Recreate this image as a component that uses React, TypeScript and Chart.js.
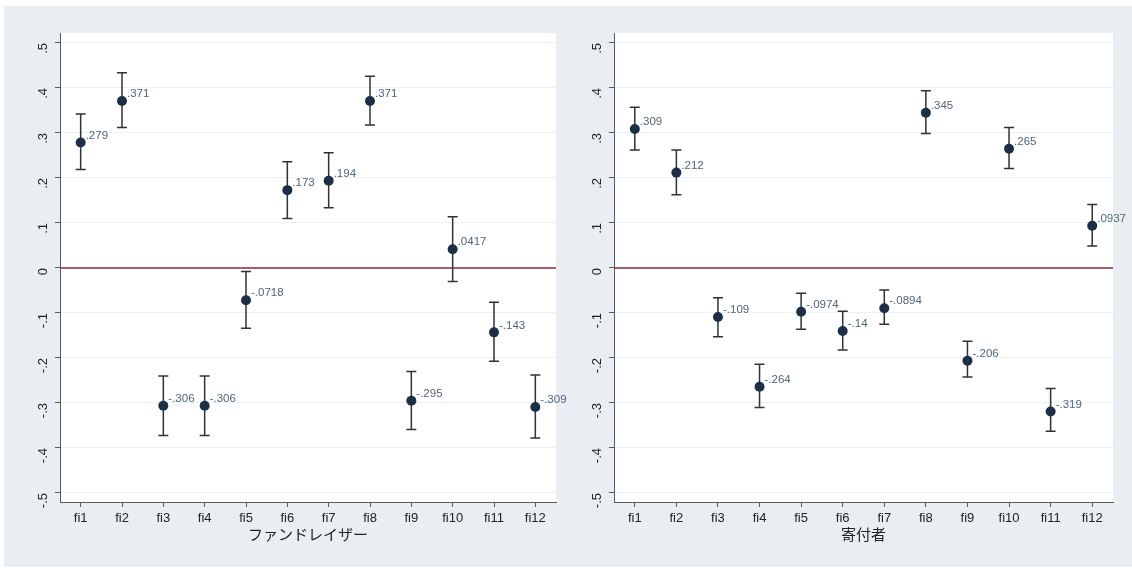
import React, { useEffect, useRef } from "react";
import { Chart, registerables } from "chart.js";

Chart.register(...registerables);

const categories = ["fi1", "fi2", "fi3", "fi4", "fi5", "fi6", "fi7", "fi8", "fi9", "fi10", "fi11", "fi12"];
const yTickValues = [-0.5, -0.4, -0.3, -0.2, -0.1, 0, 0.1, 0.2, 0.3, 0.4, 0.5];

// Left panel: ファンドレイザー
const fundraiserTitle = "ファンドレイザー";
const fundraiserCoef = [0.279, 0.371, -0.306, -0.306, -0.0718, 0.173, 0.194, 0.371, -0.295, 0.0417, -0.143, -0.309];
const fundraiserLower = [0.219, 0.312, -0.372, -0.372, -0.134, 0.110, 0.134, 0.318, -0.359, -0.030, -0.207, -0.378];
const fundraiserUpper = [0.342, 0.434, -0.240, -0.240, -0.008, 0.236, 0.256, 0.426, -0.230, 0.114, -0.076, -0.238];

// Right panel: 寄付者
const donorTitle = "寄付者";
const donorCoef = [0.309, 0.212, -0.109, -0.264, -0.0974, -0.14, -0.0894, 0.345, -0.206, 0.265, -0.319, 0.0937];
const donorLower = [0.262, 0.163, -0.153, -0.310, -0.136, -0.182, -0.125, 0.299, -0.242, 0.221, -0.363, 0.049];
const donorUpper = [0.357, 0.262, -0.066, -0.214, -0.056, -0.096, -0.049, 0.394, -0.163, 0.312, -0.268, 0.141];

const FONT = "'Liberation Sans', Arial, sans-serif";

function stataFmt(v: number): string {
  return String(v).replace(/^(-?)0\./, "$1.");
}

function makeChart(
  canvas: HTMLCanvasElement,
  title: string,
  coef: number[],
  lower: number[],
  upper: number[],
  pad: { left: number; right: number },
  yWidth: number
) {
  const errPlugin = {
    id: "errbars",
    beforeDraw(chart: any) {
      const { ctx, chartArea } = chart;
      ctx.save();
      ctx.fillStyle = "#ffffff";
      ctx.fillRect(chartArea.left, chartArea.top, chartArea.right - chartArea.left, chartArea.bottom - chartArea.top);
      ctx.restore();
    },
    beforeDatasetsDraw(chart: any) {
      const { ctx, chartArea, scales } = chart;
      const x = scales.x;
      const y = scales.y;
      ctx.save();
      const y0 = y.getPixelForValue(0);
      ctx.strokeStyle = "#8e2a3a";
      ctx.lineWidth = 1.5;
      ctx.beginPath();
      ctx.moveTo(chartArea.left, y0);
      ctx.lineTo(chartArea.right, y0);
      ctx.stroke();
      ctx.strokeStyle = "#2e3338";
      ctx.lineWidth = 1.5;
      for (let i = 0; i < coef.length; i++) {
        const px = x.getPixelForValue(i);
        const top = y.getPixelForValue(upper[i]);
        const bot = y.getPixelForValue(lower[i]);
        ctx.beginPath();
        ctx.moveTo(px, top);
        ctx.lineTo(px, bot);
        ctx.moveTo(px - 5, top);
        ctx.lineTo(px + 5, top);
        ctx.moveTo(px - 5, bot);
        ctx.lineTo(px + 5, bot);
        ctx.stroke();
      }
      ctx.restore();
    },
    afterDatasetsDraw(chart: any) {
      const { ctx, scales } = chart;
      const x = scales.x;
      const y = scales.y;
      ctx.save();
      ctx.fillStyle = "#52647c";
      ctx.font = `11.5px ${FONT}`;
      ctx.textAlign = "left";
      ctx.textBaseline = "middle";
      for (let i = 0; i < coef.length; i++) {
        const px = x.getPixelForValue(i);
        const py = y.getPixelForValue(coef[i]);
        ctx.fillText(stataFmt(coef[i]), px + 5, py - 7);
      }
      ctx.restore();
    },
  };

  return new Chart(canvas, {
    type: "line",
    data: {
      labels: categories,
      datasets: [
        {
          data: coef,
          showLine: false,
          pointRadius: 5,
          pointHoverRadius: 5,
          pointBackgroundColor: "#1c2f47",
          pointBorderColor: "#1c2f47",
          pointBorderWidth: 0,
        },
      ],
    },
    options: {
      animation: false,
      responsive: false,
      devicePixelRatio: 1,
      layout: { padding: { left: pad.left, right: pad.right, top: 33, bottom: 26 } },
      plugins: { legend: { display: false }, tooltip: { enabled: false }, title: { display: false } },
      scales: {
        x: {
          type: "category",
          offset: true,
          grid: {
            drawOnChartArea: false,
            drawTicks: true,
            tickLength: 5,
            tickColor: "#555a5e",
            offset: false,
          },
          border: { color: "#555a5e", width: 1 },
          ticks: {
            color: "#222",
            font: { family: FONT, size: 13 },
            padding: 4,
            maxRotation: 0,
            autoSkip: false,
          },
          title: {
            display: true,
            text: title,
            color: "#222",
            font: { family: "'Noto Sans CJK JP', sans-serif", size: 15 },
            padding: { top: 0, bottom: 0 },
          },
          afterFit(scale: any) {
            scale.height = 41;
          },
        },
        y: {
          type: "linear",
          min: -0.52,
          max: 0.5222,
          afterBuildTicks(scale: any) {
            scale.ticks = yTickValues.map((v) => ({ value: v }));
          },
          grid: {
            color: "#eef1f3",
            lineWidth: 1,
            drawTicks: true,
            tickLength: 5,
            tickColor: "#555a5e",
          },
          border: { color: "#555a5e", width: 1 },
          ticks: {
            color: "#222",
            font: { family: FONT, size: 13 },
            minRotation: 90,
            maxRotation: 90,
            padding: 12,
            callback: (v: any) => (Math.abs(v) < 1e-9 ? "0" : stataFmt(Math.round(v * 10) / 10)),
          },
          afterFit(scale: any) {
            scale.width = yWidth;
          },
        },
      },
    },
    plugins: [errPlugin],
  } as any);
}

export default function App() {
  const leftRef = useRef<HTMLCanvasElement>(null);
  const rightRef = useRef<HTMLCanvasElement>(null);

  useEffect(() => {
    document.body.style.margin = "0";
    const c1 = makeChart(leftRef.current!, fundraiserTitle, fundraiserCoef, fundraiserLower, fundraiserUpper, { left: 0, right: 44 }, 60);
    const c2 = makeChart(rightRef.current!, donorTitle, donorCoef, donorLower, donorUpper, { left: 0, right: 19 }, 54);
    return () => {
      c1.destroy();
      c2.destroy();
    };
  }, []);

  return (
    <div style={{ position: "relative", width: 1132, height: 569, background: "#ffffff", overflow: "hidden" }}>
      <div style={{ position: "absolute", left: 4, top: 6, width: 1128, height: 561, background: "#e8eef1" }} />
      <canvas ref={leftRef} width={600} height={569} style={{ position: "absolute", left: 0, top: 0, width: 600, height: 569 }} />
      <canvas ref={rightRef} width={572} height={569} style={{ position: "absolute", left: 560, top: 0, width: 572, height: 569 }} />
    </div>
  );
}
